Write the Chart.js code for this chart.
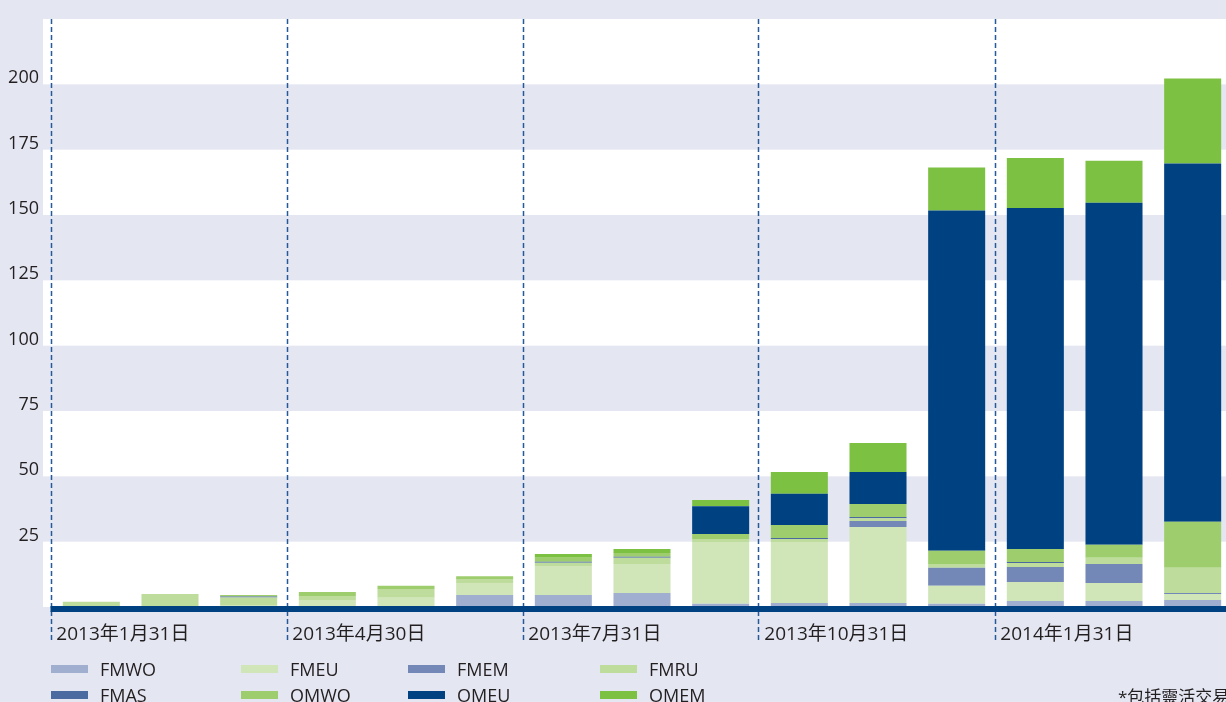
<!DOCTYPE html>
<html lang="zh-Hant">
  <head>
    <meta charset="utf-8" />
    <title>FMWO / OMEU stacked bars</title>
    <script src="https://cdn.jsdelivr.net/npm/chart.js@4.4.0/dist/chart.umd.min.js"></script>
    <style>
      html,
      body {
        margin: 0;
        padding: 0;
        overflow: hidden;
        background: #e4e6f2;
      }
      body {
        width: 1226px;
        height: 702px;
        position: relative;
        font-family: "Open Sans", "Noto Sans CJK TC", sans-serif;
        color: #231f20;
      }
      /* chart is a little wider than the window, the last bar is cut off like in the print */
      .wrapper {
        position: absolute;
        left: 0;
        top: 0;
        width: 1232px;
        height: 702px;
      }
      .legend-item {
        position: absolute;
        font-size: 18px;
        line-height: 20px;
        white-space: nowrap;
      }
      .legend-item span {
        position: absolute;
        left: 0;
        top: 6px;
        width: 37px;
        height: 8px;
      }
      .legend-item b {
        font-weight: 400;
        position: absolute;
        left: 49px;
        top: 0;
      }
      #note {
        position: absolute;
        left: 1118px;
        top: 683px;
        font-size: 17px;
        white-space: nowrap;
      }
    </style>
  </head>
  <body>
    <div class="wrapper">
      <canvas id="chart"></canvas>
    </div>
    <div id="legend"></div>
    <div id="note">*包括靈活交易</div>
    <script>
      // month-end dates
      const months = [
        "2013年1月31日", "2013年2月28日", "2013年3月31日",
        "2013年4月30日", "2013年5月31日", "2013年6月30日",
        "2013年7月31日", "2013年8月31日", "2013年9月30日",
        "2013年10月31日", "2013年11月30日", "2013年12月31日",
        "2014年1月31日", "2014年2月28日", "2014年3月31日",
      ];

      // series values (stack order, bottom to top)
      const FMWO = [0, 0, 0, 0, 0, 4.6, 4.6, 5.4, 1.2, 1.5, 1.5, 1.2, 2.3, 2.3, 2.7];
      const FMEU = [0, 0, 0.8, 2.7, 3.5, 4.6, 11.1, 11.1, 23.7, 23.4, 29.1, 6.9, 7.3, 6.9, 2.3];
      const FMEM = [0, 0, 0, 0, 0, 0, 0, 0, 0, 0, 2.3, 6.9, 5.7, 7.3, 0.4];
      const FMRU = [2.0, 5.0, 2.8, 1.5, 3.4, 1.5, 1.2, 2.3, 1.1, 1.1, 1.1, 1.5, 1.5, 2.3, 9.6];
      const FMAS = [0, 0, 0.4, 0, 0, 0, 0.4, 0.4, 0, 0.4, 0.4, 0, 0.4, 0, 0];
      const OMWO = [0, 0, 0.6, 1.5, 1.2, 1.1, 1.5, 1.5, 1.9, 5.0, 5.0, 5.0, 5.0, 5.0, 17.6];
      const OMEU = [0, 0, 0, 0, 0, 0, 0, 0, 10.7, 11.9, 12.3, 130.2, 130.5, 130.9, 137.1];
      const OMEM = [0, 0, 0, 0, 0, 0, 1.5, 1.5, 2.3, 8.4, 11.1, 16.5, 19.1, 16.1, 32.5];

      const seriesNames = ["FMWO", "FMEU", "FMEM", "FMRU", "FMAS", "OMWO", "OMEU", "OMEM"];
      const seriesValues = [FMWO, FMEU, FMEM, FMRU, FMAS, OMWO, OMEU, OMEM];
      const seriesColors = ["#a0aed0", "#d0e5b8", "#7388b7", "#bedc9c", "#4a6aa0", "#9ecd6e", "#004182", "#7dc142"];

      const yMax = 225;
      const yStep = 25;

      const FONT = "'Open Sans', 'Noto Sans CJK TC', sans-serif";
      const NAVY = "#004182";

      // white / lavender stripes behind the bars
      const bandsPlugin = {
        id: "bands",
        beforeDraw(chart) {
          const { ctx, chartArea, scales } = chart;
          const y = scales.y;
          ctx.save();
          ctx.fillStyle = "#ffffff";
          for (let v = 0; v < yMax; v += yStep * 2) {
            const top = y.getPixelForValue(v + yStep);
            const bottom = y.getPixelForValue(v);
            ctx.fillRect(chartArea.left - 9, top, chart.width, bottom - top);
          }
          ctx.restore();
        },
      };

      // dashed quarter dividers and the heavy base line
      const guidesPlugin = {
        id: "guides",
        afterDatasetsDraw(chart) {
          const { ctx, chartArea, scales } = chart;
          const x = scales.x;
          const half = (x.getPixelForValue(1) - x.getPixelForValue(0)) / 2;
          ctx.save();
          ctx.strokeStyle = "#245a99";
          ctx.lineWidth = 1.5;
          ctx.setLineDash([5, 3]);
          let firstX = null;
          for (let i = 0; i < months.length; i += 3) {
            const px = Math.round(x.getPixelForValue(i) - half - 1.5) + 0.5;
            if (firstX === null) firstX = px;
            ctx.beginPath();
            ctx.moveTo(px, chartArea.top);
            ctx.lineTo(px, chartArea.bottom + 33);
            ctx.stroke();
          }
          ctx.setLineDash([]);
          ctx.fillStyle = NAVY;
          ctx.fillRect(firstX - 1, chartArea.bottom - 1, chart.width, 6);
          ctx.restore();
        },
      };

      const chart = new Chart(document.getElementById("chart"), {
        type: "bar",
        plugins: [bandsPlugin, guidesPlugin],
        data: {
          labels: months,
          datasets: seriesNames.map((name, i) => ({
            label: name,
            data: seriesValues[i],
            backgroundColor: seriesColors[i],
            borderWidth: 0,
            barPercentage: 0.725,
            categoryPercentage: 1,
          })),
        },
        options: {
          responsive: true,
          maintainAspectRatio: false,
          animation: false,
          layout: { padding: { top: 19, bottom: 55, left: 0, right: 0 } },
          plugins: {
            legend: { display: false },
            tooltip: { enabled: false },
          },
          scales: {
            x: {
              stacked: true,
              grid: { display: false, drawTicks: false },
              border: { display: false },
              afterFit(scale) {
                scale.height = 40;
              },
              ticks: {
                autoSkip: false,
                maxRotation: 0,
                minRotation: 0,
                align: "start",
                labelOffset: -35,
                padding: 16,
                color: "#231f20",
                font: { family: FONT, size: 19 },
                callback: (v, i) => (i % 3 === 0 ? months[i] : ""),
              },
            },
            y: {
              stacked: true,
              min: 0,
              max: yMax,
              grid: { display: false, drawTicks: false },
              border: { display: false },
              afterFit(scale) {
                scale.width = 52;
                // no extra room for the (empty) top label
                scale.paddingTop = 0;
                scale.paddingBottom = 0;
              },
              ticks: {
                stepSize: yStep,
                padding: 13,
                labelOffset: -6,
                color: "#231f20",
                font: { family: FONT, size: 18 },
                callback: (v) => (v === 0 || v === yMax ? "" : v),
              },
            },
          },
        },
      });

      // legend in four columns, like the print
      const legend = document.getElementById("legend");
      const colLeft = [51, 241, 408, 600];
      const rowTop = [659, 685];
      seriesNames.forEach((name, i) => {
        const item = document.createElement("div");
        item.className = "legend-item";
        item.style.left = colLeft[i % 4] + "px";
        item.style.top = rowTop[Math.floor(i / 4)] + "px";
        item.innerHTML = `<span style="background:${seriesColors[i]}"></span><b>${name}</b>`;
        legend.appendChild(item);
      });
    </script>
  </body>
</html>
